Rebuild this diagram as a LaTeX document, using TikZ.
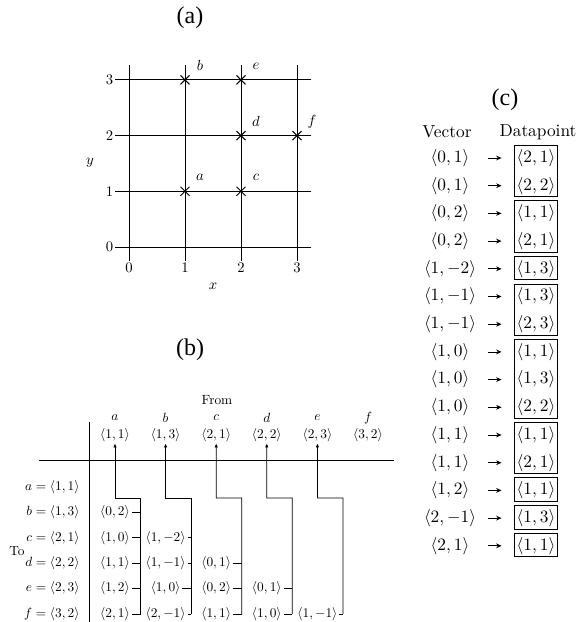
\documentclass[tikz,border=0pt]{standalone}
\usepackage{fontspec}
\newfontfamily\titlefont{Liberation Serif}
\usetikzlibrary{arrows.meta}
\begin{document}
\begin{tikzpicture}[x=0.75pt,y=-0.75pt,
  line width=0.6pt,
  title/.style={font=\titlefont\fontsize{18}{20}\selectfont},
  fa/.style={scale=1.1},
  fb/.style={},
  fc/.style={scale=1.3},
  gl/.style={line width=0.7pt},
  barrow/.style={{Latex[length=3pt,width=2.6pt]}-},
  carrow/.style={-{Stealth[length=4pt,width=3.6pt]}},
  entry/.style={fb,inner sep=1.2pt},
  vecnode/.style={fc,minimum width=42.7pt,inner sep=0pt},
  datnode/.style={fc,minimum width=39.2pt,inner sep=0pt},
  dbox/.style={line width=0.7pt}]
\useasboundingbox (0,0) rectangle (583,622);

% ---------------- titles ----------------
\node[title] (ta) at (190,18) {(a)};
\node[title] (tb) at (190,350) {(b)};
\node[title] (tc) at (505,100) {(c)};

% ---------------- panel (a) ----------------
\foreach \i in {0,1,2,3} {
  \draw[gl] ({129+56*\i},65) -- ({129+56*\i},261);
  \draw[gl] (115,{247-55.7*\i}) -- (311,{247-55.7*\i});
  \node[fa] (xt\i) at ({129+56*\i},268) {$\i$};
  \node[fa,anchor=east,inner sep=1pt] (yt\i) at (115,{247-55.7*\i}) {$\i$};
}
\node[fa] (xlab) at (213,286) {$x$};
\node[fa] (ylab) at (90,163) {$y$};
\foreach \n/\px/\py in {a/1/1,b/1/3,c/2/1,d/2/2,e/2/3,f/3/2} {
  \coordinate (p\n) at ({129+56*\px},{247-55.7*\py});
  \draw[gl] (p\n) +(-4.5,-4.5) -- +(4.5,4.5) +(-4.5,4.5) -- +(4.5,-4.5);
  \node[fa] (l\n) at ({129+56*\px+15},{247-55.7*\py-14}) {$\n$};
}

% ---------------- panel (b) ----------------
\node[fb] (from) at (217,400) {From};
\node[fb] (to) at (17,551) {To};
\foreach \n/\c [count=\j from 0] in {a/{1,1},b/{1,3},c/{2,1},d/{2,2},e/{2,3},f/{3,2}} {
  \node[fb] (hl\n) at ({115+50.6*\j},418) {$\n$};
  \node[fb,inner sep=1pt] (hp\n) at ({115+50.6*\j},435) {$\langle\c\rangle$};
  \node[fb,anchor=east,inner sep=0pt] (r\n) at (80,{487+25.4*\j}) {$\n=\langle\c\rangle$};
}
\draw (39,460) -- (394,460);
\draw (89,422) -- (89,622);

\foreach \col/\cx in {a/115,b/165.6,c/216.2,d/266.8,e/317.4} {
  \coordinate (v\col) at ({\cx+25.5},498);
  \coordinate (k\col) at (\cx,498);
}
\foreach \col/\cx/\r/\val in {
  a/115/1/{0,2}, a/115/2/{1,0}, a/115/3/{1,1}, a/115/4/{1,2}, a/115/5/{2,1},
  b/165.6/2/{1,-2}, b/165.6/3/{1,-1}, b/165.6/4/{1,0}, b/165.6/5/{2,-1},
  c/216.2/3/{0,1}, c/216.2/4/{0,2}, c/216.2/5/{1,1},
  d/266.8/4/{0,1}, d/266.8/5/{1,0},
  e/317.4/5/{1,-1}} {
  \node[entry] (n\col\r) at (\cx,{487+25.4*\r}) {$\langle\val\rangle$};
  \draw (n\col\r.east) -- (n\col\r.east -| v\col);
}
\foreach \col in {a,b,c,d,e} {
  \draw[barrow] (hp\col.south) -- (k\col) -- (v\col) -- (n\col5.east -| v\col);
}

% ---------------- panel (c) ----------------
\node[fc] (hv) at (447,132) {Vector};
\node[fc] (hd) at (538,132) {Datapoint};
\foreach \k/\v/\d in {
  1/{0,1}/{2,1}, 2/{0,1}/{2,2}, 3/{0,2}/{1,1}, 4/{0,2}/{2,1},
  5/{1,-2}/{1,3}, 6/{1,-1}/{1,3}, 7/{1,-1}/{2,3}, 8/{1,0}/{1,1},
  9/{1,0}/{1,3}, 10/{1,0}/{2,2}, 11/{1,1}/{1,1}, 12/{1,1}/{2,1},
  13/{1,2}/{1,1}, 14/{2,-1}/{1,3}, 15/{2,1}/{1,1}} {
  \node[vecnode] (cv\k) at (450,{158+27.7*(\k-1)}) {$\langle\v\rangle$};
  \node[datnode] (cd\k) at (536,{158+27.7*(\k-1)}) {$\langle\d\rangle$};
  \draw[carrow] (cv\k.east) -- (cd\k.west);
}
\foreach \s/\e in {1/2,3/4,5/5,6/7,8/10,11/12,13/13,14/14,15/15} {
  \draw[dbox] (514,{158+27.7*(\s-1)-12.5}) rectangle (557.5,{158+27.7*(\e-1)+11});
}
\end{tikzpicture}
\end{document}
